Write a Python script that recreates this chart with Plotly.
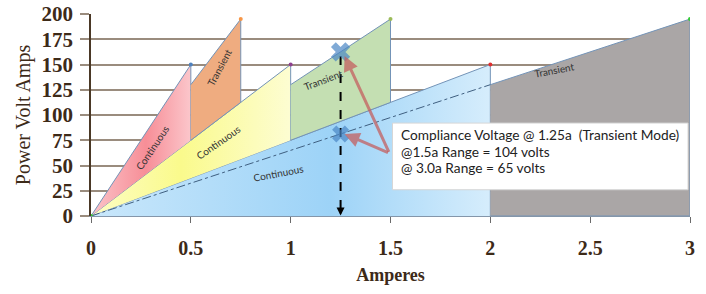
import plotly.graph_objects as go

# ---- data (Amperes vs Power Volt Amps) ----
red_amps = [0, 0.5, 0.5]
red_va = [0, 150, 75]
orange_amps = [0.5, 0.75, 0.75, 0.5]
orange_va = [130, 195, 112.5, 75]
yellow_amps = [0, 1.0, 1.0]
yellow_va = [0, 150, 75]
green_amps = [1.0, 1.5, 1.5, 1.0]
green_va = [130, 195, 112.5, 75]
blue_amps = [0, 2.0, 2.0]
blue_va = [0, 150, 0]
gray_amps = [2.0, 3.0, 3.0, 2.0]
gray_va = [130, 195, 0, 0]
compliance_amps = [0, 2.0]
compliance_va = [0, 130]
cross_amps = [1.25, 1.25]
cross_va = [162.5, 81.25]
tip_amps = [0.5, 0.75, 1.0, 1.5, 2.0, 3.0, 0]
tip_va = [150, 195, 150, 195, 150, 195, 0]
tip_colors = ["#4f81bd", "#f79646", "#8e3f8e", "#9bbb59", "#e03030", "#33cc33", "#33cc33"]

x_ticks = [0, 0.5, 1, 1.5, 2, 2.5, 3]
x_ticklabels = ["0", "0.5", "1", "1.5", "2", "2.5", "3"]
y_ticks = [0, 25, 50, 75, 100, 125, 150, 175, 200]

region_labels = [
    # text, x, y, angle
    ("Continuous", 0.31, 68, -56),
    ("Transient", 0.64, 147, -62),
    ("Continuous", 0.64, 73, -35),
    ("Transient", 1.16, 135, -21),
    ("Continuous", 0.94, 43, -11),
    ("Transient", 2.32, 145, -11),
]
note_lines = ["Compliance Voltage @ 1.25a  (Transient Mode)",
              "@1.5a Range = 104 volts",
              "@ 3.0a Range = 65 volts"]
note_y = [80.5, 64.0, 48.0]

edge = "#7393b7"
brown = "#3d2a18"
grid = "#9a8c7e"

fig = go.Figure()


def region(xs, ys, color, grad=None):
    kw = dict(x=xs, y=ys, fill="toself", mode="lines",
              line=dict(color=edge, width=1), hoverinfo="skip", showlegend=False)
    if grad:
        kw["fillgradient"] = dict(type="horizontal", colorscale=grad)
    else:
        kw["fillcolor"] = color
    fig.add_trace(go.Scatter(**kw))


region(blue_amps, blue_va, "#a9d8f8",
       [[0, "#c9e7fb"], [0.6, "#9dd3f7"], [1, "#d6edfc"]])
region(gray_amps, gray_va, "#aaa6a6")
region(yellow_amps, yellow_va, "#fbfb9e",
       [[0, "#fdfdc4"], [0.45, "#fafa8c"], [1, "#fdfdd2"]])
region(green_amps, green_va, "#c4dfb2")
region(red_amps, red_va, "#f8a2aa",
       [[0, "#fbc4c9"], [0.55, "#f78e97"], [1, "#fbc6cb"]])
region(orange_amps, orange_va, "#efac80")

# compliance dash-dot line
fig.add_trace(go.Scatter(x=compliance_amps, y=compliance_va, mode="lines",
                         line=dict(color="#3f5f80", width=1, dash="dashdot"),
                         hoverinfo="skip", showlegend=False))

# vertical dashed arrow line
fig.add_trace(go.Scatter(x=[cross_amps[0], cross_amps[0]], y=[cross_va[0] - 4, 4], mode="lines",
                         line=dict(color="black", width=2, dash="dash"),
                         hoverinfo="skip", showlegend=False))

# tip markers
fig.add_trace(go.Scatter(x=tip_amps, y=tip_va, mode="markers",
                         marker=dict(size=4, color=tip_colors),
                         hoverinfo="skip", showlegend=False))

annotations = []
# arrowhead at bottom of dashed line
annotations.append(dict(x=cross_amps[0], y=0.5, ax=cross_amps[0], ay=8, xref="x", yref="y",
                        axref="x", ayref="y", showarrow=True, arrowhead=2, arrowsize=1,
                        arrowwidth=1.6, arrowcolor="black", text=""))
# pink arrows
for cy in cross_va:
    annotations.append(dict(x=1.27, y=cy - (4 if cy > 100 else 0), ax=1.495, ay=62,
                            xref="x", yref="y", axref="x", ayref="y", showarrow=True,
                            arrowhead=2, arrowsize=1, arrowwidth=3,
                            arrowcolor="rgba(196,96,96,0.75)", text=""))

# crosses
fig.add_trace(go.Scatter(x=cross_amps, y=cross_va, mode="markers",
                         marker=dict(symbol="x", size=[17, 15], color="#4a86c5",
                                     line=dict(width=0)),
                         hoverinfo="skip", showlegend=False))

for t, x, y, a in region_labels:
    annotations.append(dict(x=x, y=y, xref="x", yref="y", text=t, showarrow=False,
                            textangle=a, font=dict(family="Lato", size=10, color="#333333")))

for line, ly in zip(note_lines, note_y):
    annotations.append(dict(x=1.543, y=ly, xref="x", yref="y", xanchor="left", yanchor="middle",
                            align="left", showarrow=False, text=line,
                            font=dict(family="Lato", size=13.7, color="#222222")))

fig.add_shape(type="rect", x0=1.51, x1=2.99, y0=26, y1=92, xref="x", yref="y",
              fillcolor="white", line=dict(color="#d6d6d6", width=1), layer="above")

fig.update_layout(
    width=706, height=294,
    margin=dict(l=91, r=16, t=14, b=78),
    paper_bgcolor="white", plot_bgcolor="white",
    showlegend=False,
    annotations=annotations,
    xaxis=dict(range=[0, 3], tickvals=x_ticks, ticktext=x_ticklabels, automargin=False,
               showgrid=False, zeroline=False, showline=True, linecolor="#8496aa",
               ticks="outside", ticklen=6, tickcolor="#6a6a6a",
               ticklabelstandoff=8,
               tickfont=dict(family="Liberation Serif", size=20, color=brown, weight="bold"),
               title=dict(text="<b>Amperes</b>", standoff=10,
                          font=dict(family="Liberation Serif", size=18, color=brown))),
    yaxis=dict(range=[0, 200], tickvals=y_ticks, showgrid=True, gridcolor=grid, gridwidth=1.5,
               automargin=False,
               zeroline=False, showline=True, linecolor="#4a3826", linewidth=1.5,
               ticks="outside", ticklen=9, tickcolor=grid, tickwidth=1.5,
               ticklabelstandoff=3,
               tickfont=dict(family="Liberation Serif", size=21, color=brown, weight="bold"),
               title=dict(text="Power Volt Amps", standoff=6,
                          font=dict(family="Liberation Serif", size=20, color=brown))),
)

fig.write_html("out.html", config={"displayModeBar": False},
               post_script="document.body.style.margin='0';document.body.style.padding='0';")
